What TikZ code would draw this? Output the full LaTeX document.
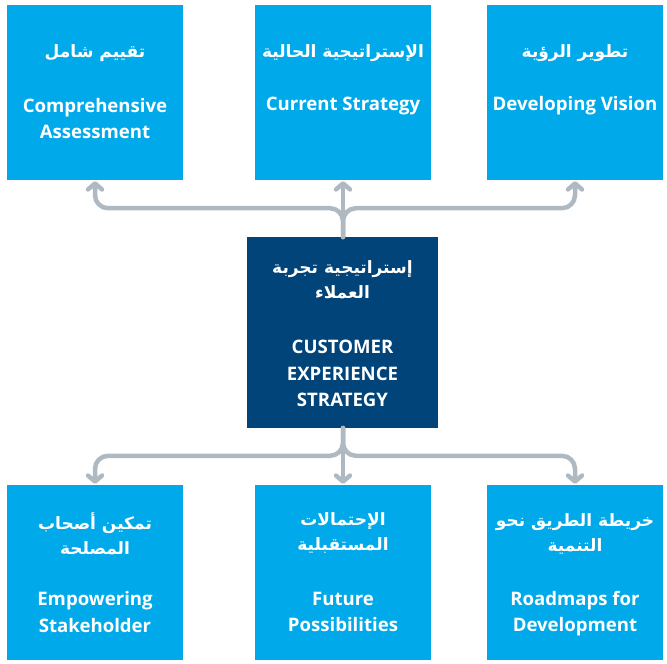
\documentclass[tikz,border=0pt]{standalone}
\usepackage{fontspec}
\setmainfont{Open Sans}
\newfontfamily\arabicfont[Script=Arabic]{DejaVu Sans}
\TeXXeTstate=1
\usetikzlibrary{arrows.meta}
\definecolor{lightbox}{HTML}{00AAEA}
\definecolor{darkbox}{HTML}{00447A}
\definecolor{connc}{HTML}{AEB9C2}
\tikzset{
  sbox/.style={fill=lightbox, draw=none, minimum width=176pt, minimum height=175pt, inner sep=0pt},
  cbox/.style={fill=darkbox, draw=none, minimum width=191pt, minimum height=191pt, inner sep=0pt},
  en/.style={text=white, font=\fontsize{18.6}{26.5}\selectfont\bfseries, align=center, inner sep=0pt},
  ar/.style={text=white, font=\fontsize{17}{25}\selectfont\arabicfont\bfseries, align=center, inner sep=0pt},
  conn/.style={draw=connc, line width=4.5pt, rounded corners=13pt, line cap=round, line join=round,
    -{Straight Barb[length=6pt, width=14pt, line cap=round, line join=round]}}
}
\begin{document}
\begin{tikzpicture}[x=1pt,y=-1pt]
\useasboundingbox (0,0) rectangle (667,664);
% boxes
\node[sbox] (t1) at (95,92.5) {};
\node[sbox] (t2) at (343,92.5) {};
\node[sbox] (t3) at (575,92.5) {};
\node[cbox] (c) at (342.5,332.5) {};
\node[sbox] (b1) at (95,572.5) {};
\node[sbox] (b2) at (343,572.5) {};
\node[sbox] (b3) at (575,572.5) {};
% texts top
\node[ar] (t1a) at (95,53) {\beginR تقييم شامل\endR};
\node[en] (t1e) at (95,118.5) {Comprehensive\\Assessment};
\node[ar] (t2a) at (343,53) {\beginR الإستراتيجية الحالية\endR};
\node[en] (t2e) at (343,106) {Current Strategy};
\node[ar] (t3a) at (575,53) {\beginR تطوير الرؤية\endR};
\node[en] (t3e) at (575,106) {Developing Vision};
% center
\node[ar] (ca) at (342.5,279.5) {\beginR إستراتيجية تجربة\endR\\\beginR العملاء\endR};
\node[en] (ce) at (342.5,373.5) {CUSTOMER\\EXPERIENCE\\STRATEGY};
% bottom
\node[ar] (b1a) at (95,533.5) {\beginR تمكين أصحاب\endR\\\beginR المصلحة\endR};
\node[en] (b1e) at (95,612) {Empowering\\Stakeholder};
\node[ar] (b2a) at (343,533.5) {\beginR الإحتمالات\endR\\\beginR المستقبلية\endR};
\node[en] (b2e) at (343,612) {Future\\Possibilities};
\node[ar] (b3a) at (575,533.5) {\beginR خريطة الطريق  نحو\endR\\\beginR التنمية\endR};
\node[en] (b3e) at (575,613.5) {Roadmaps for\\Development};
% connectors
\coordinate (ct) at (343,237);
\coordinate (cb) at (343,428);
\draw[conn] (ct) |- ([yshift=-28pt]t1.south) -- ([yshift=-1pt]t1.south);
\draw[conn] (ct) |- ([yshift=-28pt]t3.south) -- ([yshift=-1pt]t3.south);
\draw[conn] (ct) -- ([yshift=-1pt]t2.south);
\draw[conn] (cb) |- ([yshift=29pt]b1.north) -- ([yshift=1pt]b1.north);
\draw[conn] (cb) |- ([yshift=29pt]b3.north) -- ([yshift=1pt]b3.north);
\draw[conn] (cb) -- ([yshift=1pt]b2.north);
\end{tikzpicture}
\end{document}
